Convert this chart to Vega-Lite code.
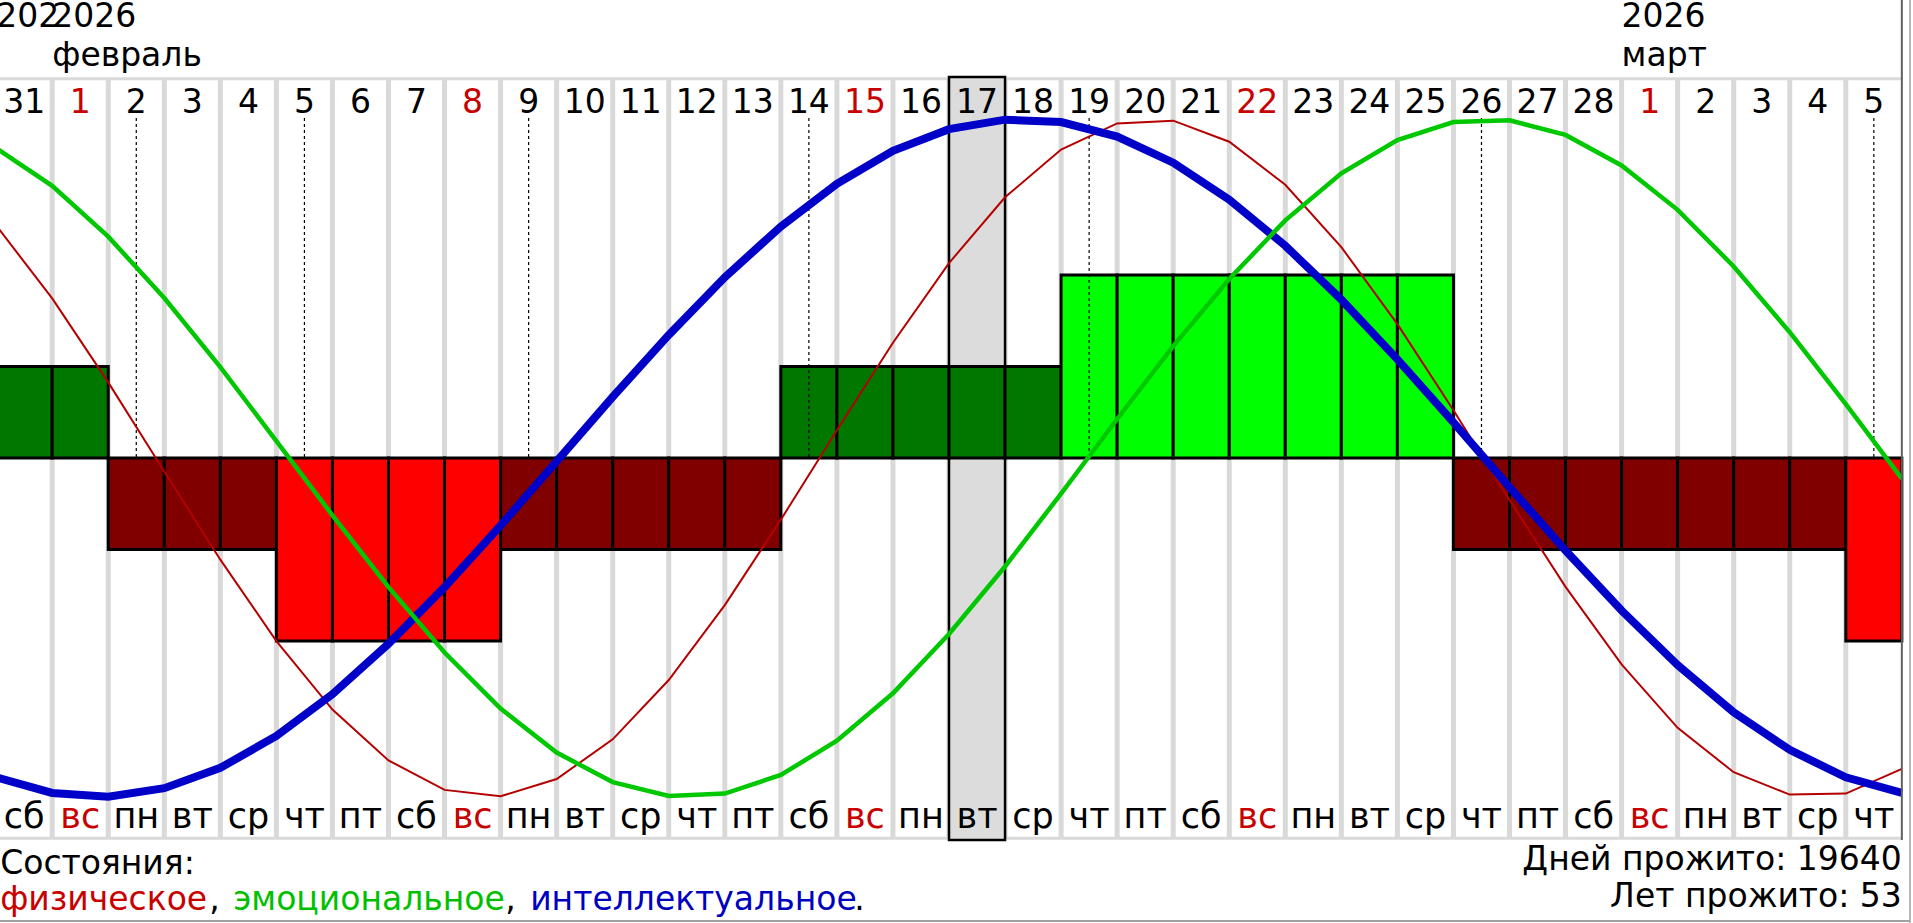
{
  "$schema": "https://vega.github.io/schema/vega-lite/v6.json",
  "width": 1913,
  "height": 923,
  "padding": 0,
  "autosize": {"type": "none"},
  "background": "white",
  "config": {"view": {"stroke": null}, "font": "DejaVu Sans", "axis": {"disable": true}, "text": {"baseline": "alphabetic"}},
  "datasets": {
    "days": [
      {"d": "2026-01-31", "day": "31", "wd": "сб", "state": 1},
      {"d": "2026-02-01", "day": "1", "wd": "вс", "off": true, "state": 1},
      {"d": "2026-02-02", "day": "2", "wd": "пн", "state": -1, "crit": true},
      {"d": "2026-02-03", "day": "3", "wd": "вт", "state": -1},
      {"d": "2026-02-04", "day": "4", "wd": "ср", "state": -1},
      {"d": "2026-02-05", "day": "5", "wd": "чт", "state": -2, "crit": true},
      {"d": "2026-02-06", "day": "6", "wd": "пт", "state": -2},
      {"d": "2026-02-07", "day": "7", "wd": "сб", "state": -2},
      {"d": "2026-02-08", "day": "8", "wd": "вс", "off": true, "state": -2},
      {"d": "2026-02-09", "day": "9", "wd": "пн", "state": -1, "crit": true},
      {"d": "2026-02-10", "day": "10", "wd": "вт", "state": -1},
      {"d": "2026-02-11", "day": "11", "wd": "ср", "state": -1},
      {"d": "2026-02-12", "day": "12", "wd": "чт", "state": -1},
      {"d": "2026-02-13", "day": "13", "wd": "пт", "state": -1},
      {"d": "2026-02-14", "day": "14", "wd": "сб", "state": 1, "crit": true},
      {"d": "2026-02-15", "day": "15", "wd": "вс", "off": true, "state": 1},
      {"d": "2026-02-16", "day": "16", "wd": "пн", "state": 1},
      {"d": "2026-02-17", "day": "17", "wd": "вт", "state": 1, "sel": true},
      {"d": "2026-02-18", "day": "18", "wd": "ср", "state": 1},
      {"d": "2026-02-19", "day": "19", "wd": "чт", "state": 2, "crit": true},
      {"d": "2026-02-20", "day": "20", "wd": "пт", "state": 2},
      {"d": "2026-02-21", "day": "21", "wd": "сб", "state": 2},
      {"d": "2026-02-22", "day": "22", "wd": "вс", "off": true, "state": 2},
      {"d": "2026-02-23", "day": "23", "wd": "пн", "state": 2},
      {"d": "2026-02-24", "day": "24", "wd": "вт", "state": 2},
      {"d": "2026-02-25", "day": "25", "wd": "ср", "state": 2},
      {"d": "2026-02-26", "day": "26", "wd": "чт", "state": -1, "crit": true},
      {"d": "2026-02-27", "day": "27", "wd": "пт", "state": -1},
      {"d": "2026-02-28", "day": "28", "wd": "сб", "state": -1},
      {"d": "2026-03-01", "day": "1", "wd": "вс", "off": true, "state": -1},
      {"d": "2026-03-02", "day": "2", "wd": "пн", "state": -1},
      {"d": "2026-03-03", "day": "3", "wd": "вт", "state": -1},
      {"d": "2026-03-04", "day": "4", "wd": "ср", "state": -1},
      {"d": "2026-03-05", "day": "5", "wd": "чт", "state": -2, "crit": true}
    ],
    "curves": [
      {"d": "2026-01-31", "phys": 0.686, "emo": 0.914, "intel": -0.942},
      {"d": "2026-02-01", "phys": 0.471, "emo": 0.803, "intel": -0.988},
      {"d": "2026-02-02", "phys": 0.223, "emo": 0.653, "intel": -0.999},
      {"d": "2026-02-03", "phys": -0.04, "emo": 0.472, "intel": -0.974},
      {"d": "2026-02-04", "phys": -0.3, "emo": 0.268, "intel": -0.914},
      {"d": "2026-02-05", "phys": -0.54, "emo": 0.05, "intel": -0.82},
      {"d": "2026-02-06", "phys": -0.742, "emo": -0.169, "intel": -0.697},
      {"d": "2026-02-07", "phys": -0.892, "emo": -0.381, "intel": -0.548},
      {"d": "2026-02-08", "phys": -0.979, "emo": -0.574, "intel": -0.381},
      {"d": "2026-02-09", "phys": -0.998, "emo": -0.739, "intel": -0.199},
      {"d": "2026-02-10", "phys": -0.947, "emo": -0.869, "intel": -0.01},
      {"d": "2026-02-11", "phys": -0.83, "emo": -0.956, "intel": 0.18},
      {"d": "2026-02-12", "phys": -0.655, "emo": -0.997, "intel": 0.363},
      {"d": "2026-02-13", "phys": -0.434, "emo": -0.99, "intel": 0.533},
      {"d": "2026-02-14", "phys": -0.182, "emo": -0.935, "intel": 0.683},
      {"d": "2026-02-15", "phys": 0.082, "emo": -0.834, "intel": 0.809},
      {"d": "2026-02-16", "phys": 0.34, "emo": -0.694, "intel": 0.906},
      {"d": "2026-02-17", "phys": 0.575, "emo": -0.519, "intel": 0.97},
      {"d": "2026-02-18", "phys": 0.769, "emo": -0.32, "intel": 0.998},
      {"d": "2026-02-19", "phys": 0.91, "emo": -0.105, "intel": 0.991},
      {"d": "2026-02-20", "phys": 0.987, "emo": 0.115, "intel": 0.948},
      {"d": "2026-02-21", "phys": 0.995, "emo": 0.33, "intel": 0.871},
      {"d": "2026-02-22", "phys": 0.933, "emo": 0.528, "intel": 0.762},
      {"d": "2026-02-23", "phys": 0.806, "emo": 0.701, "intel": 0.626},
      {"d": "2026-02-24", "phys": 0.622, "emo": 0.84, "intel": 0.467},
      {"d": "2026-02-25", "phys": 0.395, "emo": 0.938, "intel": 0.291},
      {"d": "2026-02-26", "phys": 0.141, "emo": 0.991, "intel": 0.105},
      {"d": "2026-02-27", "phys": -0.124, "emo": 0.996, "intel": -0.086},
      {"d": "2026-02-28", "phys": -0.38, "emo": 0.953, "intel": -0.273},
      {"d": "2026-03-01", "phys": -0.609, "emo": 0.863, "intel": -0.45},
      {"d": "2026-03-02", "phys": -0.796, "emo": 0.732, "intel": -0.611},
      {"d": "2026-03-03", "phys": -0.927, "emo": 0.565, "intel": -0.75},
      {"d": "2026-03-04", "phys": -0.993, "emo": 0.371, "intel": -0.861},
      {"d": "2026-03-05", "phys": -0.99, "emo": 0.159, "intel": -0.942},
      {"d": "2026-03-06", "phys": -0.917, "emo": -0.061, "intel": -0.988}
    ],
    "months": [
      {"d": "2026-01-31", "year": "2026", "month": ""},
      {"d": "2026-02-01", "year": "2026", "month": "февраль"},
      {"d": "2026-03-01", "year": "2026", "month": "март"}
    ]
  },
  "resolve": {"scale": {"y": "independent"}},
  "layer": [
    {
      "layer": [
        {
          "data": {"name": "days"},
          "mark": {"type": "rule", "color": "#d9d9d9", "strokeWidth": 5},
          "encoding": {
            "x": {
              "field": "d", "type": "ordinal", "bandPosition": 0, "axis": null,
              "scale": {
                "type": "band",
                "domain": ["2026-01-31", "2026-02-01", "2026-02-02", "2026-02-03", "2026-02-04", "2026-02-05", "2026-02-06", "2026-02-07", "2026-02-08", "2026-02-09", "2026-02-10", "2026-02-11", "2026-02-12", "2026-02-13", "2026-02-14", "2026-02-15", "2026-02-16", "2026-02-17", "2026-02-18", "2026-02-19", "2026-02-20", "2026-02-21", "2026-02-22", "2026-02-23", "2026-02-24", "2026-02-25", "2026-02-26", "2026-02-27", "2026-02-28", "2026-03-01", "2026-03-02", "2026-03-03", "2026-03-04", "2026-03-05", "2026-03-06"],
                "range": [-3.85, 1957.9],
                "paddingInner": 0,
                "paddingOuter": 0
              }
            },
            "y": {"datum": 1.121, "type": "quantitative", "axis": null, "scale": {"domain": [-1.3717, 1.351], "nice": false, "zero": false}},
            "y2": {"datum": -1.124}
          }
        },
        {
          "data": {"values": [{}]},
          "mark": {"type": "rule", "color": "#d9d9d9", "strokeWidth": 3},
          "encoding": {
            "x": {"datum": "2026-01-31", "type": "ordinal", "bandPosition": 0},
            "x2": {"datum": "2026-03-06", "bandPosition": 0},
            "y": {"datum": 1.119, "type": "quantitative"}
          }
        },
        {
          "data": {"values": [{}]},
          "mark": {"type": "rule", "color": "#d9d9d9", "strokeWidth": 3},
          "encoding": {
            "x": {"datum": "2026-01-31", "type": "ordinal", "bandPosition": 0},
            "x2": {"datum": "2026-03-06", "bandPosition": 0},
            "y": {"datum": -1.122, "type": "quantitative"}
          }
        },
        {
          "data": {"name": "days"},
          "transform": [{"filter": "datum.sel"}],
          "mark": {"type": "rect", "fill": "#dcdcdc", "stroke": "black", "strokeWidth": 2.5},
          "encoding": {
            "x": {"field": "d", "type": "ordinal"},
            "y": {"datum": 1.124, "type": "quantitative"},
            "y2": {"datum": -1.127}
          }
        }
      ]
    },
    {
      "data": {"name": "days"},
      "mark": {"type": "rect", "stroke": "black", "strokeWidth": 3},
      "encoding": {
        "x": {"field": "d", "type": "ordinal"},
        "y": {"field": "state", "type": "quantitative", "axis": null, "scale": {"domain": [-5.082, 5.005], "nice": false, "zero": false}},
        "y2": {"datum": 0},
        "color": {
          "field": "state", "type": "ordinal", "legend": null,
          "scale": {"domain": [-2, -1, 1, 2], "range": ["#ff0000", "#800000", "#007800", "#00ff00"]}
        }
      }
    },
    {
      "layer": [
        {
          "data": {"name": "days"},
          "transform": [{"filter": "datum.crit"}],
          "mark": {"type": "rule", "color": "black", "strokeWidth": 1.2, "strokeDash": [3, 3]},
          "encoding": {
            "x": {"field": "d", "type": "ordinal", "bandPosition": 0.5},
            "y": {"datum": 1.003, "type": "quantitative", "axis": null, "scale": {"domain": [-1.3717, 1.351], "nice": false, "zero": false}},
            "y2": {"datum": 0}
          }
        },
        {
          "data": {"name": "curves"},
          "mark": {"type": "line", "color": "#b40000", "strokeWidth": 2, "clip": true},
          "encoding": {
            "x": {"field": "d", "type": "ordinal", "bandPosition": 0},
            "y": {"field": "phys", "type": "quantitative"}
          }
        },
        {
          "data": {"name": "curves"},
          "mark": {"type": "line", "color": "#0000c8", "strokeWidth": 8, "clip": true},
          "encoding": {
            "x": {"field": "d", "type": "ordinal", "bandPosition": 0},
            "y": {"field": "intel", "type": "quantitative"}
          }
        },
        {
          "data": {"name": "curves"},
          "mark": {"type": "line", "color": "#00c800", "strokeWidth": 4.5, "clip": true},
          "encoding": {
            "x": {"field": "d", "type": "ordinal", "bandPosition": 0},
            "y": {"field": "emo", "type": "quantitative"}
          }
        },
        {
          "data": {"name": "days"},
          "mark": {"type": "text", "fontSize": 33, "align": "center", "baseline": "alphabetic"},
          "encoding": {
            "x": {"field": "d", "type": "ordinal", "bandPosition": 0.5},
            "y": {"datum": 1.019, "type": "quantitative"},
            "text": {"field": "day"},
            "color": {"condition": {"test": "datum.off", "value": "#c80000"}, "value": "black"}
          }
        },
        {
          "data": {"name": "days"},
          "mark": {"type": "text", "fontSize": 35, "align": "center", "baseline": "alphabetic"},
          "encoding": {
            "x": {"field": "d", "type": "ordinal", "bandPosition": 0.5},
            "y": {"datum": -1.091, "type": "quantitative"},
            "text": {"field": "wd"},
            "color": {"condition": {"test": "datum.off", "value": "#c80000"}, "value": "black"}
          }
        },
        {
          "data": {"name": "months"},
          "transform": [{"filter": "datum.month == ''"}],
          "mark": {"type": "text", "fontSize": 33, "align": "left", "baseline": "alphabetic", "limit": 64, "ellipsis": "\u200b", "color": "black"},
          "encoding": {
            "x": {"field": "d", "type": "ordinal", "bandPosition": 0},
            "y": {"datum": 1.27, "type": "quantitative"},
            "text": {"field": "year"}
          }
        },
        {
          "data": {"name": "months"},
          "transform": [{"filter": "datum.month != ''"}],
          "mark": {"type": "text", "fontSize": 33, "align": "left", "baseline": "alphabetic", "color": "black"},
          "encoding": {
            "x": {"field": "d", "type": "ordinal", "bandPosition": 0},
            "y": {"datum": 1.27, "type": "quantitative"},
            "text": {"field": "year"}
          }
        },
        {
          "data": {"name": "months"},
          "transform": [{"filter": "datum.month != ''"}],
          "mark": {"type": "text", "fontSize": 33, "align": "left", "baseline": "alphabetic", "color": "black"},
          "encoding": {
            "x": {"field": "d", "type": "ordinal", "bandPosition": 0},
            "y": {"datum": 1.156, "type": "quantitative"},
            "text": {"field": "month"}
          }
        },
        {
          "data": {"values": [{}]},
          "mark": {"type": "text", "fontSize": 33, "align": "left", "baseline": "alphabetic", "dx": 4, "color": "black", "text": "Состояния:"},
          "encoding": {
            "x": {"datum": "2026-01-31", "type": "ordinal", "bandPosition": 0},
            "y": {"datum": -1.227, "type": "quantitative"}
          }
        },
        {
          "data": {"values": [{}]},
          "mark": {"type": "text", "fontSize": 33, "align": "left", "baseline": "alphabetic", "dx": 4, "color": "#c80000", "text": "физическое"},
          "encoding": {
            "x": {"datum": "2026-01-31", "type": "ordinal", "bandPosition": 0},
            "y": {"datum": -1.333, "type": "quantitative"}
          }
        },
        {
          "data": {"values": [{}]},
          "mark": {"type": "text", "fontSize": 33, "align": "left", "baseline": "alphabetic", "dx": 213, "color": "black", "text": ","},
          "encoding": {
            "x": {"datum": "2026-01-31", "type": "ordinal", "bandPosition": 0},
            "y": {"datum": -1.333, "type": "quantitative"}
          }
        },
        {
          "data": {"values": [{}]},
          "mark": {"type": "text", "fontSize": 33, "align": "left", "baseline": "alphabetic", "dx": 237, "color": "#00c000", "text": "эмоциональное"},
          "encoding": {
            "x": {"datum": "2026-01-31", "type": "ordinal", "bandPosition": 0},
            "y": {"datum": -1.333, "type": "quantitative"}
          }
        },
        {
          "data": {"values": [{}]},
          "mark": {"type": "text", "fontSize": 33, "align": "left", "baseline": "alphabetic", "dx": 509, "color": "black", "text": ","},
          "encoding": {
            "x": {"datum": "2026-01-31", "type": "ordinal", "bandPosition": 0},
            "y": {"datum": -1.333, "type": "quantitative"}
          }
        },
        {
          "data": {"values": [{}]},
          "mark": {"type": "text", "fontSize": 33, "align": "left", "baseline": "alphabetic", "dx": 534, "color": "#0000c0", "text": "интеллектуальное"},
          "encoding": {
            "x": {"datum": "2026-01-31", "type": "ordinal", "bandPosition": 0},
            "y": {"datum": -1.333, "type": "quantitative"}
          }
        },
        {
          "data": {"values": [{}]},
          "mark": {"type": "text", "fontSize": 33, "align": "left", "baseline": "alphabetic", "dx": 858, "color": "black", "text": "."},
          "encoding": {
            "x": {"datum": "2026-01-31", "type": "ordinal", "bandPosition": 0},
            "y": {"datum": -1.333, "type": "quantitative"}
          }
        },
        {
          "data": {"values": [{}]},
          "mark": {"type": "text", "fontSize": 33, "align": "right", "baseline": "alphabetic", "color": "black", "text": "Дней прожито: 19640"},
          "encoding": {
            "x": {"datum": "2026-03-06", "type": "ordinal", "bandPosition": 0},
            "y": {"datum": -1.215, "type": "quantitative"}
          }
        },
        {
          "data": {"values": [{}]},
          "mark": {"type": "text", "fontSize": 33, "align": "right", "baseline": "alphabetic", "color": "black", "text": "Лет прожито: 53"},
          "encoding": {
            "x": {"datum": "2026-03-06", "type": "ordinal", "bandPosition": 0},
            "y": {"datum": -1.324, "type": "quantitative"}
          }
        },
        {
          "data": {"values": [{}]},
          "mark": {"type": "rule", "color": "#606060", "strokeWidth": 2},
          "encoding": {
            "x": {"datum": "2026-03-06", "type": "ordinal", "bandPosition": 0},
            "y": {"datum": 1.351, "type": "quantitative"},
            "y2": {"datum": -1.127}
          }
        },
        {
          "data": {"values": [{}]},
          "mark": {"type": "rule", "color": "#a0a0a0", "strokeWidth": 1.5},
          "encoding": {
            "x": {"datum": "2026-03-06", "type": "ordinal", "bandPosition": 0.145},
            "y": {"datum": 1.351, "type": "quantitative"},
            "y2": {"datum": -1.3717}
          }
        },
        {
          "data": {"values": [{}]},
          "mark": {"type": "rule", "color": "#a0a0a0", "strokeWidth": 2},
          "encoding": {
            "x": {"datum": "2026-01-31", "type": "ordinal", "bandPosition": 0},
            "x2": {"datum": "2026-03-06", "bandPosition": 0.145},
            "y": {"datum": -1.366, "type": "quantitative"}
          }
        }
      ]
    }
  ]
}
